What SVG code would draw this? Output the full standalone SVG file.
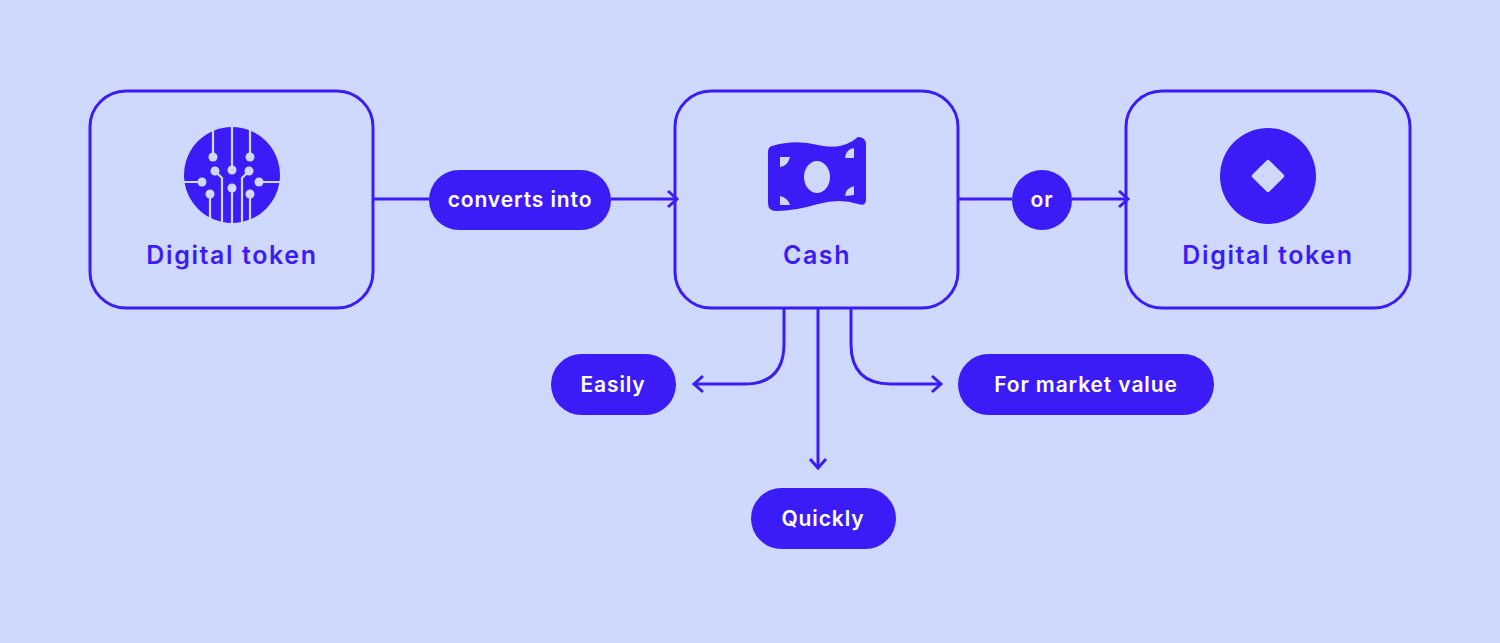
<svg xmlns="http://www.w3.org/2000/svg" width="1500" height="643" viewBox="0 0 1500 643">
<style>
.box{fill:none;stroke:#3c1cf6;stroke-width:3}
.pill{fill:#3c1cf6}
.t{font-family:Inter,"Liberation Sans",sans-serif;font-weight:600;fill:#ffffff;font-size:21px;letter-spacing:0.9px;text-anchor:middle}
.n{font-family:Inter,"Liberation Sans",sans-serif;font-weight:600;fill:#3c1cf6;font-size:25px;letter-spacing:1.6px;text-anchor:middle}
.c{fill:none;stroke:#3c1cf6;stroke-width:3}
.tr{fill:none;stroke:#cfd8fd;stroke-width:2.2}
.d{fill:#cfd8fd}
</style>
<defs>
<marker id="a" markerWidth="12" markerHeight="20" refX="10" refY="10" orient="auto" markerUnits="userSpaceOnUse">
<path d="M1,2 L10,10 L1,18" fill="none" stroke="#3c1cf6" stroke-width="3"/>
</marker>
</defs>
<rect width="1500" height="643" fill="#cfd8fd"/>
<g id="connectors">
<path class="c" d="M373,199 H429"/>
<path class="c" d="M611,199 H677" marker-end="url(#a)"/>
<path class="c" d="M958,199 H1012"/>
<path class="c" d="M1072,199 H1128" marker-end="url(#a)"/>
<path class="c" d="M784,308 V344 Q784,384 744,384 H694" marker-end="url(#a)"/>
<path class="c" d="M818,308 V468" marker-end="url(#a)"/>
<path class="c" d="M851,308 V344 Q851,384 891,384 H941" marker-end="url(#a)"/>
</g>
<g id="node-token1">
<rect class="box" x="90" y="91" width="283" height="217" rx="36"/>
<circle cx="232" cy="175" r="48" fill="#3c1cf6"/>
<path class="tr" d="M232,127 V170 M213,127 V157 M250,127 V157 M184,182 H202 M259,182 H280 M232,188 V223 M210,194 V223 M250,194 V223 M215,171 L222,178 V223 M249,171 L242,178 V223"/>
<circle class="d" cx="232" cy="170" r="4.5"/><circle class="d" cx="213" cy="157" r="4.5"/><circle class="d" cx="250" cy="157" r="4.5"/>
<circle class="d" cx="202" cy="182" r="4.5"/><circle class="d" cx="259" cy="182" r="4.5"/><circle class="d" cx="215" cy="171" r="4.5"/>
<circle class="d" cx="249" cy="171" r="4.5"/><circle class="d" cx="232" cy="188" r="4.5"/><circle class="d" cx="210" cy="194" r="4.5"/><circle class="d" cx="250" cy="194" r="4.5"/>
<text class="n" x="232" y="264">Digital token</text>
</g>
<g id="node-cash">
<rect class="box" x="675" y="91" width="283" height="217" rx="36"/>
<path d="M772,146 Q795,139 818,145 Q842,151 858,137 Q866,137 866,145 V199 Q866,207 858,204 Q840,198 818,204 Q795,211 776,211 Q768,211 768,203 V152 Q768,147 772,146 Z" fill="#3c1cf6"/>
<ellipse cx="817" cy="177" rx="13" ry="16" fill="#cfd8fd"/>
<path class="d" d="M780,157 V167 Q788,166 790,157 Z M780,196 V205 H790 Q788,198 780,196 Z M854,148 Q846,149 845,158 H854 Z M854,186 Q846,188 845,196 L854,195 Z"/>
<text class="n" x="817" y="264">Cash</text>
</g>
<g id="node-token2">
<rect class="box" x="1126" y="91" width="284" height="217" rx="36"/>
<circle cx="1268" cy="176" r="48" fill="#3c1cf6"/>
<rect x="1256" y="164" width="24" height="24" rx="2" fill="#cfd8fd" transform="rotate(45 1268 176)"/>
<text class="n" x="1268" y="264">Digital token</text>
</g>
<g id="label-converts"><rect class="pill" x="429" y="170" width="182" height="60" rx="30"/><text class="t" x="520" y="207">converts into</text></g>
<g id="label-or"><circle class="pill" cx="1042" cy="200" r="30"/><text class="t" x="1042" y="207">or</text></g>
<g id="node-easily"><rect class="pill" x="551" y="354" width="125" height="61" rx="30.5"/><text class="t" x="613" y="392">Easily</text></g>
<g id="node-market"><rect class="pill" x="958" y="354" width="256" height="61" rx="30.5"/><text class="t" x="1086" y="392">For market value</text></g>
<g id="node-quickly"><rect class="pill" x="751" y="488" width="145" height="61" rx="30.5"/><text class="t" x="823" y="526">Quickly</text></g>
</svg>
